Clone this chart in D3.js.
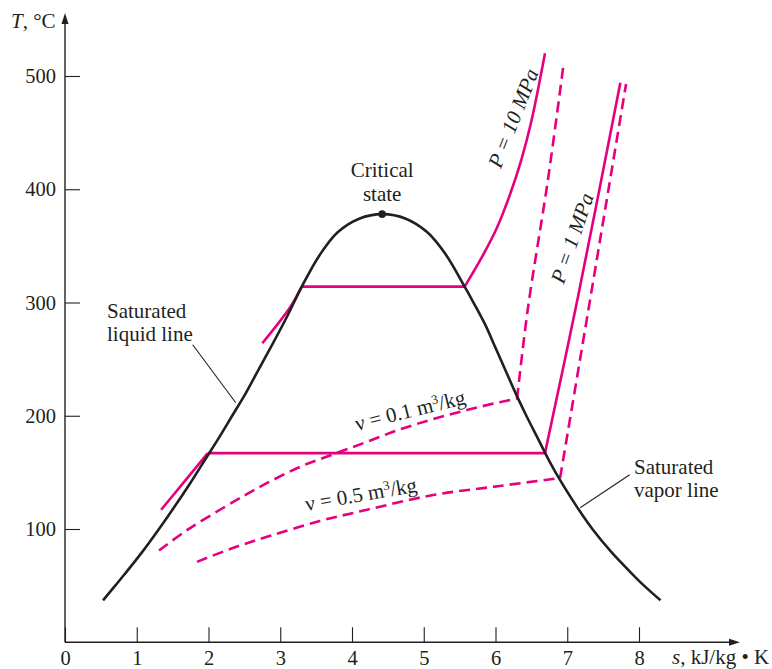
<!DOCTYPE html>
<html>
<head>
<meta charset="utf-8">
<script src="https://cdn.jsdelivr.net/npm/d3@7"></script>
<style>
  html, body { margin: 0; padding: 0; background: #fff; }
  svg { display: block; font-family: "Liberation Serif", "Times New Roman", serif; }
  .axis text { font-size: 20.5px; fill: #231f20; font-family: "Liberation Serif", serif; }
  .lbl { font-size: 21px; fill: #231f20; }
</style>
</head>
<body>
<svg id="chart" width="772" height="669"></svg>
<script>
// axis ticks
const sTicks = [0, 1, 2, 3, 4, 5, 6, 7, 8]
const tTicks = [100, 200, 300, 400, 500]

// saturation dome (s in kJ/kg.K, T in C)
const domeS = [0.53, 0.70, 0.83, 1.08, 1.31, 1.53, 1.74, 1.94, 2.14, 2.33, 2.52, 2.70, 2.89, 3.09, 3.30, 3.55, 3.80, 4.10, 4.42,
               4.75, 5.05, 5.30, 5.57, 5.71, 5.86, 6.00, 6.14, 6.28, 6.43, 6.59, 6.75, 6.93, 7.13, 7.35, 7.61, 7.91, 8.07, 8.30]
const domeT = [37, 50, 60, 80, 100, 120, 140, 160, 180, 200, 220, 241, 263, 287, 314, 342, 362, 374, 378,
               374, 362, 343, 314, 298, 280, 260, 240, 220, 200, 180, 160, 140, 120, 100, 80, 60, 50, 37]
const criticalS = 4.42
const criticalT = 378

// P = 10 MPa: compressed liquid, saturated mixture, superheated vapor
const p10LiqS = [2.75, 3.14, 3.30]
const p10LiqT = [264, 296, 314]
const p10MixS = [3.30, 5.57]
const p10MixT = [314, 314]
const p10VapS = [5.57, 5.81, 6.02, 6.20, 6.36, 6.50, 6.69]
const p10VapT = [314, 340, 366, 395, 426, 460, 520]

// P = 1 MPa
const p1LiqS = [1.34, 1.64, 1.99]
const p1LiqT = [117, 140, 167]
const p1MixS = [1.99, 6.69]
const p1MixT = [167, 167]
const p1VapS = [6.69, 7.14, 7.74]
const p1VapT = [167, 302, 494]

// v = 0.1 m3/kg
const v01WetS = [1.31, 1.70, 2.16, 2.54, 2.86, 3.28, 3.74, 4.21, 4.67, 5.13, 5.60, 6.06, 6.30]
const v01WetT = [81, 99, 117, 131, 142, 155, 166, 177, 188, 197, 205, 212, 215]
const v01VapS = [6.30, 6.45, 6.73, 6.95]
const v01VapT = [215, 294, 408, 511]

// v = 0.5 m3/kg
const v05WetS = [1.84, 2.33, 2.86, 3.55, 4.21, 5.13, 6.06, 6.90]
const v05WetT = [71, 83, 94, 107, 117, 130, 138, 145]
const v05VapS = [6.90, 7.32, 7.82]
const v05VapT = [145, 303, 493]

const MAGENTA = '#e6007e'
const INK = '#231f20'

const svg = d3.select('#chart')
svg.append('rect').attr('width', 772).attr('height', 669).attr('fill', '#fff')

const x = d3.scaleLinear().domain([0, 8]).range([65, 639])
const y = d3.scaleLinear().domain([100, 500]).range([529, 76])

const x0 = x(0), y0 = y(0)
const xEnd = 740, yTop = 13

// axes
const xAxis = svg.append('g').attr('class', 'axis')
  .attr('transform', `translate(0,${y0})`)
  .call(d3.axisBottom(x).tickValues(sTicks).tickSize(-15).tickSizeOuter(0).tickPadding(8).tickFormat(d3.format('d')))
xAxis.select('.domain').remove()
xAxis.selectAll('.tick line').attr('stroke', INK).attr('stroke-width', 1.1)

const yAxis = svg.append('g').attr('class', 'axis')
  .attr('transform', `translate(${x0},0)`)
  .call(d3.axisLeft(y).tickValues(tTicks).tickSize(-15).tickSizeOuter(0).tickPadding(9))
yAxis.select('.domain').remove()
yAxis.selectAll('.tick line').attr('stroke', INK).attr('stroke-width', 1.1)

svg.append('line').attr('x1', x0).attr('x2', xEnd - 6).attr('y1', y0).attr('y2', y0)
  .attr('stroke', INK).attr('stroke-width', 1.4)
svg.append('line').attr('x1', x0).attr('x2', x0).attr('y1', y0).attr('y2', yTop + 6)
  .attr('stroke', INK).attr('stroke-width', 1.4)
svg.append('path').attr('d', `M${xEnd},${y0}L${xEnd - 11},${y0 - 3.5}L${xEnd - 11},${y0 + 3.5}Z`).attr('fill', INK)
svg.append('path').attr('d', `M${x0},${yTop}L${x0 - 3.5},${yTop + 11}L${x0 + 3.5},${yTop + 11}Z`).attr('fill', INK)

// axis titles
const tTitle = svg.append('text').attr('class', 'lbl').attr('x', 11).attr('y', 28)
tTitle.append('tspan').attr('font-style', 'italic').text('T')
tTitle.append('tspan').text(', °C')

const sTitle = svg.append('text').attr('class', 'lbl').attr('x', 672).attr('y', 664)
sTitle.append('tspan').attr('font-style', 'italic').text('s')
sTitle.append('tspan').text(', kJ/kg • K')

// curves
const pts = (sArr, tArr) => d3.zip(sArr, tArr)
const smooth = d3.line().curve(d3.curveCatmullRom).x(d => x(d[0])).y(d => y(d[1]))
const straight = d3.line().x(d => x(d[0])).y(d => y(d[1]))

const drawPath = (gen, data, dashed) => {
  const p = svg.append('path').attr('d', gen(data))
    .attr('fill', 'none').attr('stroke', MAGENTA).attr('stroke-width', 2.6)
    .attr('stroke-linejoin', 'round')
  if (dashed) p.attr('stroke-dasharray', '11,6')
  return p
}

// constant volume lines (dashed)
drawPath(smooth, pts(v01WetS, v01WetT), true)
drawPath(smooth, pts(v01VapS, v01VapT), true)
drawPath(smooth, pts(v05WetS, v05WetT), true)
drawPath(straight, pts(v05VapS, v05VapT), true)

// constant pressure lines (solid)
drawPath(smooth, pts(p10LiqS, p10LiqT))
drawPath(straight, pts(p10MixS, p10MixT))
drawPath(smooth, pts(p10VapS, p10VapT))
drawPath(smooth, pts(p1LiqS, p1LiqT))
drawPath(straight, pts(p1MixS, p1MixT))
drawPath(smooth, pts(p1VapS, p1VapT))

// saturation dome
svg.append('path').attr('d', smooth(pts(domeS, domeT)))
  .attr('fill', 'none').attr('stroke', INK).attr('stroke-width', 2.6)

svg.append('circle').attr('cx', x(criticalS)).attr('cy', y(criticalT)).attr('r', 3.8).attr('fill', INK)

// labels
svg.append('text').attr('class', 'lbl').attr('text-anchor', 'middle')
  .attr('x', x(criticalS)).attr('y', y(criticalT) - 37).text('Critical')
svg.append('text').attr('class', 'lbl').attr('text-anchor', 'middle')
  .attr('x', x(criticalS)).attr('y', y(criticalT) - 13).text('state')

svg.append('text').attr('class', 'lbl').attr('x', 107).attr('y', 318).text('Saturated')
svg.append('text').attr('class', 'lbl').attr('x', 107).attr('y', 341).text('liquid line')
svg.append('line').attr('x1', x(1.78)).attr('y1', y(262.7)).attr('x2', x(2.38)).attr('y2', y(211.5))
  .attr('stroke', INK).attr('stroke-width', 1.1)

svg.append('text').attr('class', 'lbl').attr('x', 634).attr('y', 474).text('Saturated')
svg.append('text').attr('class', 'lbl').attr('x', 634).attr('y', 497).text('vapor line')
svg.append('line').attr('x1', x(7.87)).attr('y1', y(147.9)).attr('x2', x(7.18)).attr('y2', y(118.8))
  .attr('stroke', INK).attr('stroke-width', 1.1)

const rotLabel = (cx, cy, angle, build) => {
  const t = svg.append('text').attr('class', 'lbl').attr('text-anchor', 'middle')
    .attr('transform', `translate(${cx},${cy}) rotate(${angle})`).attr('dy', '0.35em')
  build(t)
}

rotLabel(513, 118, -68.5, t => {
  t.append('tspan').attr('font-style', 'italic').text('P = 10 MPa')
})
rotLabel(572, 238, -71, t => {
  t.append('tspan').attr('font-style', 'italic').text('P = 1 MPa')
})
rotLabel(410, 410, -14, t => {
  t.append('tspan').text('ν = 0.1 m')
  t.append('tspan').attr('font-size', 13).attr('dy', '-0.55em').text('3')
  t.append('tspan').attr('dy', '0.35em').text('/kg')
})
rotLabel(361, 494, -10, t => {
  t.append('tspan').text('ν = 0.5 m')
  t.append('tspan').attr('font-size', 13).attr('dy', '-0.55em').text('3')
  t.append('tspan').attr('dy', '0.35em').text('/kg')
})
</script>
</body>
</html>
